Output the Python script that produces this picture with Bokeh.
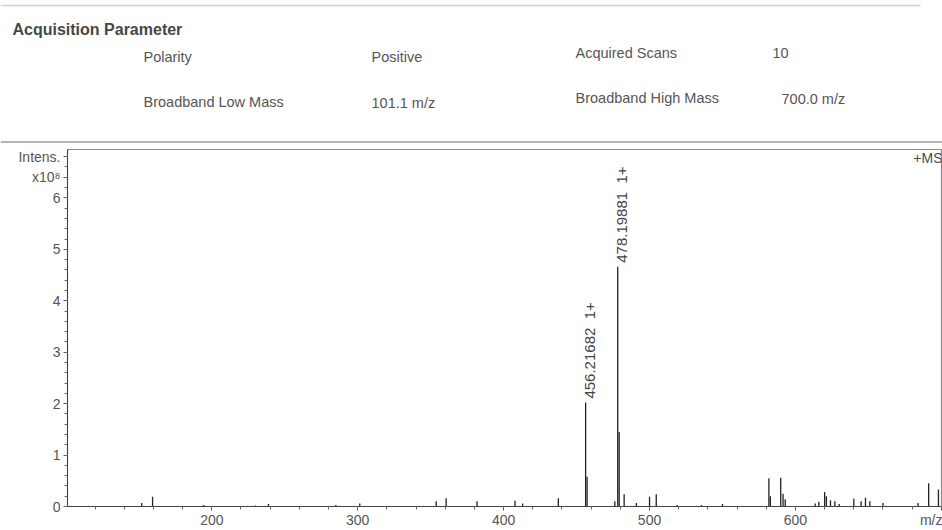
from bokeh.plotting import figure
from bokeh.models import Range1d, Label, FixedTicker, ColumnDataSource
from bokeh.embed import file_html
from bokeh.resources import INLINE
from bokeh.core.properties import value
import math

# ---------------- data ----------------
# m/z positions and intensities (x10^8)
mz = [152.0, 159.4, 194.5, 230.0, 238.8, 285.0, 301.4, 353.8, 360.6, 381.8,
      407.8, 413.0, 437.5, 456.2, 457.2, 476.2, 478.2, 479.2, 482.6, 491.0,
      500.0, 504.6, 519.0, 535.6, 550.0, 581.8, 582.8, 589.9, 591.5, 593.0,
      613.5, 616.0, 620.0, 621.2, 624.0, 627.0, 630.0, 640.0, 645.0, 648.0,
      651.0, 660.0, 684.0, 691.3, 698.0]
intensity = [0.07, 0.19, 0.03, 0.02, 0.05, 0.03, 0.06, 0.10, 0.16, 0.10,
             0.11, 0.06, 0.16, 2.02, 0.58, 0.10, 4.66, 1.45, 0.24, 0.07,
             0.19, 0.24, 0.03, 0.03, 0.05, 0.55, 0.20, 0.56, 0.25, 0.14,
             0.06, 0.09, 0.28, 0.20, 0.12, 0.10, 0.05, 0.15, 0.10, 0.17,
             0.10, 0.07, 0.07, 0.45, 0.33]

peak_mz = [456.21682, 478.19881]
peak_int = [2.02, 4.66]
peak_text = ["456.21682\u00a0\u00a01+", "478.19881\u00a0\u00a01+"]

x_major = [200, 300, 400, 500, 600, 700]
x_minor = list(range(120, 701, 20))
y_major = [0, 1, 2, 3, 4, 5, 6, 6.4, 6.8]
y_minor = [round(0.2 * i, 1) for i in range(0, 35)]
x_overrides = {700: "m/z"}
y_overrides = {6.4: "x10\u2078", 6.8: "Intens."}

hdr_title = "Acquisition Parameter"
hdr_names = ["Polarity", "Broadband Low Mass", "Acquired Scans", "Broadband High Mass"]
hdr_values = ["Positive", "101.1 m/z", "10", "700.0 m/z"]

FONT = "Liberation Sans"
TXT = "#555555"

# ---------------- header ----------------
h = figure(width=942, height=143, x_range=Range1d(0, 942), y_range=Range1d(143, 0),
           output_backend="svg", toolbar_location=None, min_border=0)
h.axis.visible = False
h.grid.visible = False
h.outline_line_color = None
h.segment(x0=[0, 0], y0=[5, 141.5], x1=[920, 942], y1=[5, 141.5],
          line_color=["#cfcfcf", "#9a9a9a"], line_width=1.5)
h.text(x=[12], y=[29], text=[hdr_title], text_font=value(FONT), text_font_style="bold",
       text_font_size="16px", text_color="#474747", text_baseline="alphabetic")
h.text(x=[143, 143, 575, 575], y=[56, 101, 52, 97], text=hdr_names, text_font=value(FONT),
       text_font_size="14.5px", text_color=TXT, text_baseline="alphabetic")
h.text(x=[371, 371, 772, 781], y=[56, 102, 52, 98], text=hdr_values, text_font=value(FONT),
       text_font_size="14.5px", text_color=TXT, text_baseline="alphabetic")

# ---------------- spectrum ----------------
p = figure(width=942, height=387, x_range=Range1d(101.1, 700.1), y_range=Range1d(0, 6.94),
           output_backend="svg", toolbar_location=None,
           min_border_left=67, min_border_right=1, min_border_top=6, min_border_bottom=20)
p.grid.visible = False
p.outline_line_color = "#8a8a8a"
p.outline_line_width = 1.2

src = ColumnDataSource(dict(mz=mz, zero=[0] * len(mz), inten=intensity))
p.segment(x0="mz", y0="zero", x1="mz", y1="inten", source=src, line_color="#222222", line_width=1.3)

lsrc = ColumnDataSource(dict(x=peak_mz, y=peak_int, t=peak_text))
p.text(x="x", y="y", text="t", source=lsrc, angle=math.pi / 2, text_align="left",
       text_baseline="middle", x_offset=4, y_offset=-4, text_font=value(FONT),
       text_font_size="15px", text_color="#444444")

p.xaxis.ticker = FixedTicker(ticks=x_major, minor_ticks=x_minor)
p.yaxis.ticker = FixedTicker(ticks=y_major, minor_ticks=y_minor)
p.xaxis.major_label_overrides = x_overrides
p.yaxis.major_label_overrides = y_overrides
for ax in (p.xaxis, p.yaxis):
    ax.major_tick_in = 0
    ax.major_tick_out = 4
    ax.minor_tick_in = 0
    ax.minor_tick_out = 3
    ax.axis_line_color = "#444444"
    ax.major_tick_line_color = "#555555"
    ax.minor_tick_line_color = "#666666"
    ax.major_label_text_font = FONT
    ax.major_label_text_color = TXT
    ax.major_label_text_font_size = "14px"
    ax.axis_label_standoff = 0
p.xaxis.major_label_standoff = 1
p.xaxis.major_label_text_line_height = 0.8
p.yaxis.major_label_standoff = 3

H = 361
p.add_layout(Label(x=875, y=H - 4, x_units="screen", y_units="screen", text="+MS",
                   text_align="right", text_baseline="top", text_font=FONT,
                   text_color="#4a4a4a", text_font_size="14px"))

open("out.html", "w").write(file_html([h, p], INLINE))
